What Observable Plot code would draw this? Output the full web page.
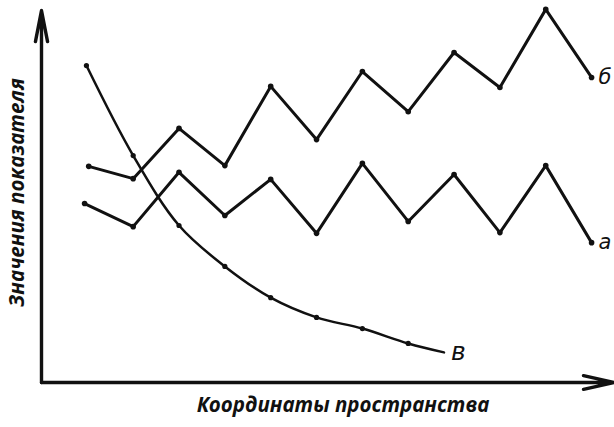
<!DOCTYPE html>
<html><head><meta charset="utf-8">
<script src="https://cdn.jsdelivr.net/npm/d3@7"></script>
<script src="https://cdn.jsdelivr.net/npm/@observablehq/plot@0.6"></script>
<style>body{margin:0;background:#fff}</style>
</head><body><div id="chart"></div>
<script>
// Series "а" (middle zigzag)
const xA = [0.94, 2, 3, 4, 5, 6, 7, 8, 9, 10, 11, 12];
const yA = [4.81, 4.19, 5.65, 4.49, 5.46, 4.01, 5.89, 4.33, 5.59, 4.03, 5.83, 3.76];
// Series "б" (upper zigzag)
const xB = [1.03, 2, 3, 4, 5, 6, 7, 8, 9, 10, 11, 12];
const yB = [5.81, 5.48, 6.83, 5.83, 7.96, 6.53, 8.36, 7.28, 8.87, 7.93, 10.03, 8.2];
// Series "в" (decreasing curve)
const xV = [0.98, 2, 3, 4, 5, 6, 7, 8, 8.78];
const yV = [8.52, 6.1, 4.22, 3.12, 2.28, 1.75, 1.45, 1.05, 0.81];
const labels = ["а", "б", "в"];
const xTitle = "Координаты пространства";
const yTitle = "Значения показателя";

const A = xA.map((x, i) => ({x, y: yA[i]}));
const B = xB.map((x, i) => ({x, y: yB[i]}));
const V = xV.map((x, i) => ({x, y: yV[i]}));
const ends = [
  {x: xA[xA.length-1], y: yA[yA.length-1], t: labels[0], s: 21},
  {x: xB[xB.length-1], y: yB[yB.length-1], t: labels[1], s: 21},
  {x: xV[xV.length-1], y: yV[yV.length-1], t: labels[2], s: 25}
];
const font = "'Open Sans', sans-serif";

const chart = Plot.plot({
  width: 614, height: 427,
  marginLeft: 41, marginRight: 0, marginTop: 10, marginBottom: 45,
  x: {domain: [0, 12.5], axis: null},
  y: {domain: [0, 10], axis: null},
  style: {background: "#fff"},
  marks: [
    Plot.arrow([{x1: 0, y1: 0, x2: 0, y2: 10}], {x1: "x1", y1: "y1", x2: "x2", y2: "y2", stroke: "#111", strokeWidth: 3.4, headLength: 14, headAngle: 22}),
    Plot.arrow([{x1: 0, y1: 0, x2: 12.5, y2: 0}], {x1: "x1", y1: "y1", x2: "x2", y2: "y2", stroke: "#111", strokeWidth: 3.4, headLength: 14, headAngle: 25}),
    Plot.line(A, {x: "x", y: "y", stroke: "#111", strokeWidth: 3}),
    Plot.line(B, {x: "x", y: "y", stroke: "#111", strokeWidth: 3}),
    Plot.line(V, {x: "x", y: "y", stroke: "#111", strokeWidth: 2.5, curve: "catmull-rom"}),
    Plot.dot(A, {x: "x", y: "y", r: 2.8, fill: "#111"}),
    Plot.dot(B, {x: "x", y: "y", r: 2.8, fill: "#111"}),
    Plot.dot(V.slice(0, -1), {x: "x", y: "y", r: 2.6, fill: "#111"}),
    Plot.text(ends, {x: "x", y: "y", text: "t", dx: 7, textAnchor: "start", fontSize: "s", fontStyle: "italic", fontFamily: "'DejaVu Sans', sans-serif", fill: "#111", lineAnchor: "middle"}),
    Plot.text([xTitle], {frameAnchor: "bottom", textAnchor: "middle", dy: 29, dx: 15, fontSize: 20.5, fontWeight: "bold", fontStyle: "italic", fontFamily: font, fill: "#111"}),
    Plot.text([yTitle], {frameAnchor: "left", textAnchor: "middle", dx: -24, dy: -4, rotate: -90, fontSize: 20.5, fontWeight: "bold", fontStyle: "italic", fontFamily: font, fill: "#111"})
  ]
});
document.getElementById("chart").append(chart);
</script>
</body></html>
